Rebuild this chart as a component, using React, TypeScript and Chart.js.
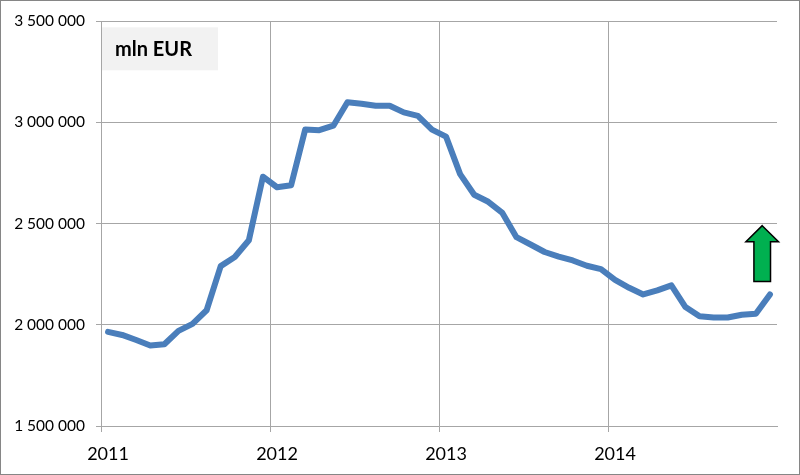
import React, { useEffect, useRef } from 'react';
import { Chart, registerables } from 'chart.js';

Chart.register(...registerables);

// ---- data ----
const YEARS = ['2011', '2012', '2013', '2014'];
const MONTHS = ['01', '02', '03', '04', '05', '06', '07', '08', '09', '10', '11', '12'];
const VALUES = [
  1965000, 1950000, 1925000, 1898000, 1904000, 1970000, 2005000, 2072000, 2290000, 2335000, 2418000, 2732000,
  2680000, 2690000, 2965000, 2962000, 2984000, 3100000, 3093000, 3083000, 3083000, 3050000, 3033000, 2965000,
  2930000, 2745000, 2643000, 2608000, 2553000, 2433000, 2397000, 2360000, 2337000, 2318000, 2292000, 2275000,
  2222000, 2183000, 2150000, 2170000, 2195000, 2088000, 2042000, 2036000, 2036000, 2050000, 2055000, 2150000,
];
const Y_MIN = 1500000;
const Y_MAX = 3500000;
const Y_STEP = 500000;
const UNIT_LABEL = 'mln EUR';
// arrow annotation, in data terms (category index, values)
const ARROW_INDEX = 46.45;
const ARROW_TIP = 2490000;
const ARROW_HEAD_BASE = 2411000;
const ARROW_TAIL = 2214000;

const CATEGORIES = YEARS.flatMap((y) => MONTHS.map((m) => `${y}-${m}`));

const fmt = (v: number) => String(Math.round(v)).replace(/\B(?=(\d{3})+(?!\d))/g, ' ');

const GRID = '#a6a6a6';

const annotations = {
  id: 'annotations',
  beforeDatasetsDraw(chart: any) {
    const { ctx, chartArea } = chart;
    ctx.save();
    const bx = chartArea.left + 1;
    const by = chartArea.top + 6;
    ctx.fillStyle = '#f2f2f2';
    ctx.fillRect(bx, by, 116, 43);
    ctx.fillStyle = '#000';
    ctx.font = 'bold 20px Lato';
    ctx.textBaseline = 'middle';
    ctx.textAlign = 'left';
    ctx.fillText(UNIT_LABEL, bx + 13, by + 22);
    ctx.restore();
  },
  afterDatasetsDraw(chart: any) {
    const { ctx, scales } = chart;
    const x = scales.x.getPixelForValue(ARROW_INDEX);
    const tip = scales.y.getPixelForValue(ARROW_TIP);
    const base = scales.y.getPixelForValue(ARROW_HEAD_BASE);
    const tail = scales.y.getPixelForValue(ARROW_TAIL);
    const hw = 16.3;
    const sw = 8.3;
    ctx.save();
    ctx.beginPath();
    ctx.moveTo(x, tip);
    ctx.lineTo(x + hw, base);
    ctx.lineTo(x + sw, base);
    ctx.lineTo(x + sw, tail);
    ctx.lineTo(x - sw, tail);
    ctx.lineTo(x - sw, base);
    ctx.lineTo(x - hw, base);
    ctx.closePath();
    ctx.fillStyle = '#00b050';
    ctx.fill();
    ctx.lineWidth = 1.5;
    ctx.strokeStyle = '#000';
    ctx.lineJoin = 'miter';
    ctx.stroke();
    ctx.restore();
  },
};

export default function App() {
  const ref = useRef<HTMLCanvasElement | null>(null);

  useEffect(() => {
    if (!ref.current) return;
    const chart = new Chart(ref.current, {
      type: 'line',
      data: {
        labels: CATEGORIES,
        datasets: [
          {
            data: VALUES,
            borderColor: '#4a7ebb',
            borderWidth: 6,
            pointRadius: 0,
            tension: 0,
            fill: false,
            borderJoinStyle: 'round',
            borderCapStyle: 'round',
          },
        ],
      },
      options: {
        animation: false,
        responsive: false,
        maintainAspectRatio: false,
        layout: { padding: { top: 19, right: 22, bottom: 0, left: 0 } },
        plugins: { legend: { display: false }, tooltip: { enabled: false } },
        scales: {
          x: {
            type: 'category',
            offset: true,
            grid: {
              offset: true,
              drawTicks: true,
              tickLength: 6,
              color: (c: any) => (c.index % 12 === 0 ? GRID : 'rgba(0,0,0,0)'),
              lineWidth: 1,
            },
            border: { display: true, color: GRID, width: 1 },
            ticks: {
              autoSkip: false,
              maxRotation: 0,
              minRotation: 0,
              padding: 11,
              color: '#000',
              font: { family: 'Lato', size: 18 },
              callback: (_v: any, i: number) => (i % 12 === 0 ? CATEGORIES[i].slice(0, 4) : ''),
            },
            afterFit: (s: any) => {
              s.height = 48;
            },
          },
          y: {
            min: Y_MIN,
            max: Y_MAX,
            grid: { color: GRID, lineWidth: 1, tickLength: 5, drawTicks: true },
            border: { display: true, color: GRID, width: 1 },
            ticks: {
              stepSize: Y_STEP,
              padding: 11,
              color: '#000',
              font: { family: 'Lato', size: 15.5 },
              callback: (v: any) => fmt(Number(v)),
            },
            afterFit: (s: any) => {
              s.width = 100;
            },
          },
        },
      },
      plugins: [annotations],
    });
    return () => chart.destroy();
  }, []);

  return (
    <div
      style={{
        position: 'fixed',
        left: 0,
        top: 0,
        width: 800,
        height: 475,
        boxSizing: 'border-box',
        border: '1px solid #868686',
        background: '#fff',
      }}
    >
      <canvas ref={ref} width={798} height={473} style={{ display: 'block', width: 798, height: 473 }} />
    </div>
  );
}
